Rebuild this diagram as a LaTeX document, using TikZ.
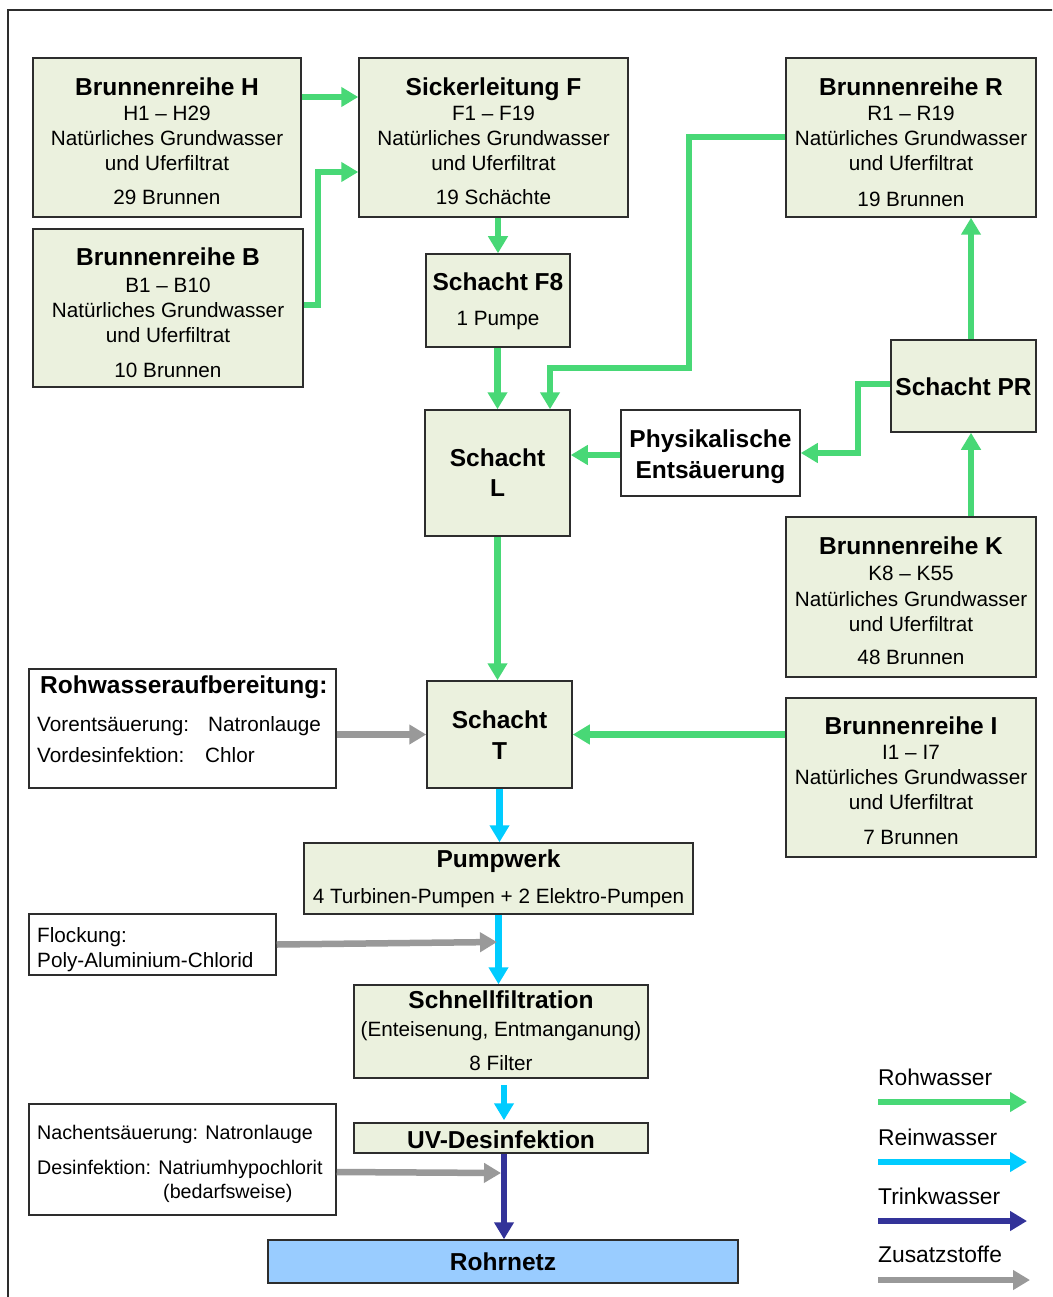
\documentclass[tikz,border=0pt]{standalone}
\usepackage{fontspec}
\setmainfont{Liberation Sans}
\usetikzlibrary{arrows.meta}
\definecolor{grn}{RGB}{72,216,118}
\definecolor{cyn}{RGB}{0,204,255}
\definecolor{nvy}{RGB}{51,51,153}
\definecolor{gry}{RGB}{153,153,153}
\definecolor{boxfill}{RGB}{235,241,222}
\definecolor{netfill}{RGB}{153,204,255}
\definecolor{edge}{RGB}{45,45,45}
\tikzset{
  box/.style={draw=edge, line width=1.5pt, fill=boxfill, inner sep=0pt, rectangle},
  wbox/.style={draw=edge, line width=1.5pt, fill=white, inner sep=0pt, rectangle},
  ttl/.style={font=\bfseries\fontsize{24.5}{28}\selectfont, inner sep=0pt, text height=17.5pt, text depth=0pt},
  txt/.style={font=\fontsize{20.7}{24}\selectfont, inner sep=0pt, text height=14.8pt, text depth=0pt},
  stxt/.style={font=\fontsize{19.7}{23}\selectfont, inner sep=0pt, text height=14.1pt, text depth=0pt},
  ltxt/.style={font=\fontsize{22.8}{26}\selectfont, inner sep=0pt, text height=16.3pt, text depth=0pt},
  arr/.style={line width=6.5pt, -{Triangle[length=17pt,width=19pt]}},
  garrow/.style={arr, draw=grn, color=grn},
  carrow/.style={arr, draw=cyn, color=cyn},
  narrow/.style={arr, draw=nvy, color=nvy},
  xarrow/.style={arr, draw=gry, color=gry},
}
\begin{document}
\begin{tikzpicture}[x=1pt,y=-1pt]
\useasboundingbox (0,0) rectangle (1052,1297);
\clip (0,0) rectangle (1052,1297);
\fill[white] (0,0) rectangle (1052,1297);
\draw[edge, line width=1.5pt] (8,10) rectangle (1080,1320);

% ---------- boxes ----------
\node[box, minimum width=268pt, minimum height=159pt] (H) at (167,137.5) {};
\node[box, minimum width=270pt, minimum height=158pt] (B) at (168,308) {};
\node[box, minimum width=269pt, minimum height=159pt] (F) at (493.5,137.5) {};
\node[box, minimum width=250pt, minimum height=159pt] (R) at (911,137.5) {};
\node[box, minimum width=144pt, minimum height=93pt] (F8) at (498,300.5) {};
\node[box, minimum width=145pt, minimum height=126pt] (L) at (497.5,473) {};
\node[wbox, minimum width=179pt, minimum height=86pt] (Ph) at (710.5,453) {};
\node[box, minimum width=145pt, minimum height=92pt] (PR) at (963.5,386) {};
\node[box, minimum width=250pt, minimum height=160pt] (K) at (911,597) {};
\node[box, minimum width=250pt, minimum height=159pt] (I) at (911,777.5) {};
\node[box, minimum width=145pt, minimum height=107pt] (T) at (499.5,734.5) {};
\node[wbox, minimum width=307pt, minimum height=119pt] (Ro) at (182.5,728.5) {};
\node[box, minimum width=389pt, minimum height=71pt] (P) at (498.5,878.5) {};
\node[wbox, minimum width=247pt, minimum height=61pt] (Fl) at (152.5,944.5) {};
\node[box, minimum width=294pt, minimum height=93pt] (S) at (501,1031.5) {};
\node[box, minimum width=294pt, minimum height=30pt] (UV) at (501,1138) {};
\node[wbox, minimum width=307pt, minimum height=111pt] (Na) at (182.5,1159.5) {};
\node[draw=edge, line width=1.5pt, fill=netfill, inner sep=0pt, minimum width=470pt, minimum height=43pt] (RN) at (503,1261.5) {};

% ---------- texts ----------
\node[ttl] (tH1) at (167,87) {Brunnenreihe H};
\node[txt] (tH2) at (167,113) {H1 – H29};
\node[txt] (tH3) at (167,138) {Natürliches Grundwasser};
\node[txt] (tH4) at (167,163) {und Uferfiltrat};
\node[txt] (tH5) at (167,197) {29 Brunnen};

\node[ttl] (tB1) at (168,257) {Brunnenreihe B};
\node[txt] (tB2) at (168,285) {B1 – B10};
\node[txt] (tB3) at (168,310) {Natürliches Grundwasser};
\node[txt] (tB4) at (168,335) {und Uferfiltrat};
\node[txt] (tB5) at (168,370) {10 Brunnen};

\node[ttl] (tF1) at (493.5,87) {Sickerleitung F};
\node[txt] (tF2) at (493.5,113) {F1 – F19};
\node[txt] (tF3) at (493.5,138) {Natürliches Grundwasser};
\node[txt] (tF4) at (493.5,163) {und Uferfiltrat};
\node[txt] (tF5) at (493.5,197) {19 Schächte};

\node[ttl] (tR1) at (911,87) {Brunnenreihe R};
\node[txt] (tR2) at (911,113) {R1 – R19};
\node[txt] (tR3) at (911,138) {Natürliches Grundwasser};
\node[txt] (tR4) at (911,163) {und Uferfiltrat};
\node[txt] (tR5) at (911,199) {19 Brunnen};

\node[ttl] (tF8a) at (498,282) {Schacht F8};
\node[txt] (tF8b) at (498,318) {1 Pumpe};

\node[ttl] (tL1) at (497.5,458) {Schacht};
\node[ttl] (tL2) at (497.5,488) {L};

\node[ttl] (tPh1) at (710.5,439) {Physikalische};
\node[ttl] (tPh2) at (710.5,470) {Entsäuerung};

\node[ttl] (tPR) at (963.5,387) {Schacht PR};

\node[ttl] (tK1) at (911,546) {Brunnenreihe K};
\node[txt] (tK2) at (911,573) {K8 – K55};
\node[txt] (tK3) at (911,599) {Natürliches Grundwasser};
\node[txt] (tK4) at (911,624) {und Uferfiltrat};
\node[txt] (tK5) at (911,657) {48 Brunnen};

\node[ttl] (tI1) at (911,726) {Brunnenreihe I};
\node[txt] (tI2) at (911,752) {I1 – I7};
\node[txt] (tI3) at (911,777) {Natürliches Grundwasser};
\node[txt] (tI4) at (911,802) {und Uferfiltrat};
\node[txt] (tI5) at (911,837) {7 Brunnen};

\node[ttl] (tT1) at (499.5,720) {Schacht};
\node[ttl] (tT2) at (499.5,751) {T};

\node[ttl, anchor=west] (tRo1) at (40,685) {Rohwasseraufbereitung:};
\node[txt, anchor=west] (tRo2) at (37,724) {Vorentsäuerung:};
\node[txt, anchor=west] (tRo3) at (208,724) {Natronlauge};
\node[txt, anchor=west] (tRo4) at (37,755) {Vordesinfektion:};
\node[txt, anchor=west] (tRo5) at (205,755) {Chlor};

\node[ttl] (tP1) at (498.5,859) {Pumpwerk};
\node[txt] (tP2) at (498.5,896) {4 Turbinen-Pumpen + 2 Elektro-Pumpen};

\node[txt, anchor=west] (tFl1) at (37,935) {Flockung:};
\node[txt, anchor=west] (tFl2) at (37,960) {Poly-Aluminium-Chlorid};

\node[ttl] (tS1) at (501,1000) {Schnellfiltration};
\node[txt] (tS2) at (501,1029) {(Enteisenung, Entmanganung)};
\node[txt] (tS3) at (501,1063) {8 Filter};

\node[ttl] (tUV) at (501,1140) {UV-Desinfektion};

\node[stxt, anchor=west] (tNa1) at (37,1132) {Nachentsäuerung: Natronlauge};
\node[stxt, anchor=west] (tNa2) at (37,1167) {Desinfektion: Natriumhypochlorit};
\node[stxt, anchor=west] (tNa3) at (163,1191) {(bedarfsweise)};

\node[ttl] (tRN) at (503,1262) {Rohrnetz};

% ---------- connectors ----------
\draw[garrow] ([yshift=40.5pt]H.east) -- ([yshift=40.5pt]F.west);
\draw[garrow] ([yshift=3pt]B.east) -- ++(14,0) |- ([yshift=-34.5pt]F.west);
\draw[garrow] (F8.north |- F.south) -- (F8.north);
\draw[garrow] (L.north |- F8.south) -- (L.north);
\draw[garrow] ([yshift=0.5pt]R.west) -| (689,368) -| ([xshift=52.5pt]L.north);
\draw[garrow] ([yshift=2pt]PR.west) -| (858,453) -- (Ph.east);
\coordinate (phw) at ([yshift=-2pt]Ph.west);
\draw[garrow] (phw) -- (L.east |- phw);
\draw[garrow] ([xshift=60pt]K.north) -- ([xshift=7.5pt]PR.south);
\draw[garrow] ([xshift=7.5pt]PR.north) -- ([xshift=60pt]R.south);
\draw[garrow] (L.south) -- (L.south |- T.north);
\draw[garrow] ([yshift=43pt]I.west) -- (T.east);
\draw[xarrow] ([yshift=-6pt]Ro.east) -- (T.west);
\draw[carrow] (T.south) -- (T.south |- P.north);
\draw[carrow] (P.south) -- (P.south |- S.north);
\coordinate (flend) at (497,942);
\draw[xarrow] (Fl.east) -- (flend);
\draw[carrow] ([xshift=3pt,yshift=-6pt]S.south) -- ([xshift=3pt,yshift=2pt]UV.north);
\draw[narrow] ([xshift=3pt]UV.south) -- ([xshift=1pt]RN.north);
\coordinate (naend) at (501,1173);
\draw[xarrow] ([yshift=-12.5pt]Na.east) -- (naend);

% ---------- legend ----------
\node[ltxt, anchor=west] (lg1) at (878,1077) {Rohwasser};
\node[ltxt, anchor=west] (lg2) at (878,1137) {Reinwasser};
\node[ltxt, anchor=west] (lg3) at (878,1196) {Trinkwasser};
\node[ltxt, anchor=west] (lg4) at (878,1254) {Zusatzstoffe};
\coordinate (l1a) at (878,1102); \coordinate (l1b) at (1027,1102);
\coordinate (l2a) at (878,1162); \coordinate (l2b) at (1027,1162);
\coordinate (l3a) at (878,1221); \coordinate (l3b) at (1027,1221);
\coordinate (l4a) at (878,1280); \coordinate (l4b) at (1030,1280);
\draw[garrow] (l1a) -- (l1b);
\draw[carrow] (l2a) -- (l2b);
\draw[narrow] (l3a) -- (l3b);
\draw[xarrow] (l4a) -- (l4b);
\end{tikzpicture}
\end{document}
